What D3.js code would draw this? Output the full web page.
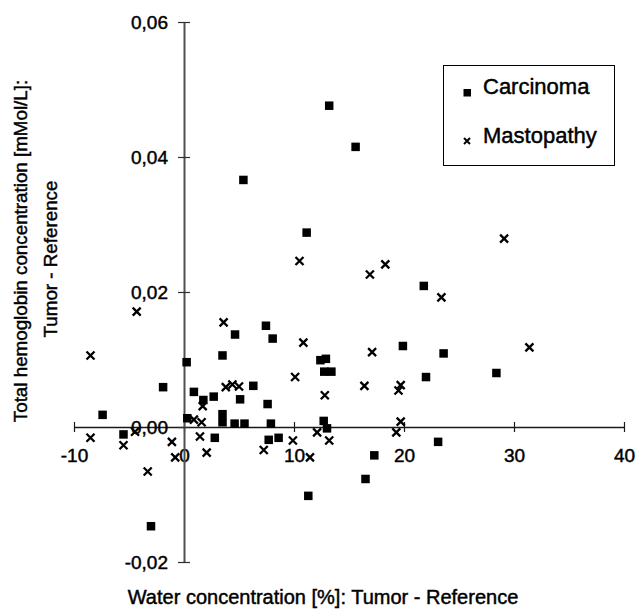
<!DOCTYPE html>
<html>
<head>
<meta charset="utf-8">
<script src="https://cdn.jsdelivr.net/npm/d3@7/dist/d3.min.js"></script>
<style>
  html, body { margin: 0; padding: 0; background: #fff; }
  svg { display: block; font-family: "Liberation Sans", Arial, sans-serif; }
  svg text { fill: #000; stroke: #000; stroke-width: 0.45px; }
</style>
</head>
<body>
<svg id="chart" width="636" height="610"></svg>
<script>
// Water concentration difference (%) and total hemoglobin difference (mMol/L), tumor minus reference
const carcinomaX = [13.2, 15.6, 5.4, 11.15, 21.8, 7.45, 4.64, 8.06, 19.9, 23.6, 3.5, 0.24, 12.4, 12.9, 12.75, 13.4, 22.0, 28.4, -1.9, 6.3, 0.9, 1.76, 2.7, 5.1, 7.6, 3.5, 3.5, 4.6, 5.5, 7.9, 0.3, -7.4, -5.5, 2.8, 7.7, 8.6, 12.7, 13.0, -3.0, 11.3, 16.5, 17.3, 23.1];
const carcinomaY = [0.0476, 0.0415, 0.0366, 0.0288, 0.0209, 0.0150, 0.0137, 0.0131, 0.0120, 0.0109, 0.0106, 0.0096, 0.0099, 0.0101, 0.0082, 0.0082, 0.0074, 0.0080, 0.0059, 0.0061, 0.0052, 0.0040, 0.0045, 0.0041, 0.0034, 0.0019, 0.0007, 0.0005, 0.0005, 0.0005, 0.0013, 0.0018, -0.0011, -0.0016, -0.0019, -0.0016, 0.0009, -0.0002, -0.0147, -0.0102, -0.0077, -0.0042, -0.0022];

const mastopathyX = [29.1, 10.5, 18.3, 16.9, 23.4, -4.3, 3.6, 10.85, 31.4, 17.1, -8.5, 10.1, 16.4, 19.7, 19.5, 3.8, 4.4, 5.0, 12.8, 1.7, 0.9, 1.6, 19.7, 19.3, -8.5, -5.5, -4.45, -1.1, -0.8, -3.3, 1.45, 2.06, 7.25, 9.9, 11.45, 12.1, 13.2];
const mastopathyY = [0.0279, 0.0246, 0.0241, 0.0226, 0.0192, 0.0171, 0.0155, 0.0125, 0.0118, 0.0111, 0.0106, 0.0074, 0.0061, 0.0062, 0.0054, 0.0059, 0.0063, 0.0060, 0.0047, 0.0031, 0.0011, 0.0007, 0.0008, -0.0008, -0.0016, -0.0027, -0.0007, -0.0022, -0.0045, -0.0066, -0.0014, -0.0038, -0.0034, -0.0020, -0.0045, -0.0008, -0.0020];

const xTicks = [-10, 0, 10, 20, 30, 40];
const yTicks = [-0.02, 0, 0.02, 0.04, 0.06];
const seriesNames = ["Carcinoma", "Mastopathy"];
const xTitle = "Water concentration [%]: Tumor - Reference";
const yTitleLines = ["Total hemoglobin concentration [mMol/L]:", "Tumor - Reference"];

const svg = d3.select("#chart");

const x = d3.scaleLinear().domain([-10, 40]).range([74, 624]);
const y = d3.scaleLinear().domain([-0.02, 0.06]).range([562, 22]);

const commaFmt = d3.formatLocale({ decimal: ",", thousands: ".", grouping: [3], currency: ["", ""], minus: "-" }).format(".2f");

// Axes cross at the origin
const xAxis = d3.axisBottom(x).tickValues(xTicks).tickSize(0).tickFormat(d => String(d));
const gx = svg.append("g").attr("transform", `translate(0,${y(0)})`).call(xAxis);
gx.select(".domain").attr("stroke", "#1a1a1a").attr("stroke-width", 1.4);
gx.selectAll(".tick line").attr("y1", -5).attr("y2", 5).attr("stroke", "#1a1a1a").attr("stroke-width", 1.2);
gx.selectAll(".tick text")
  .attr("y", 35).attr("dy", 0)
  .attr("font-size", 19)
  .attr("font-family", "'Liberation Sans', Arial, sans-serif");

const yAxis = d3.axisLeft(y).tickValues(yTicks).tickSize(0).tickFormat(d => commaFmt(d));
const gy = svg.append("g").attr("transform", `translate(${x(0)},0)`).call(yAxis);
gy.select(".domain").attr("stroke", "#505050").attr("stroke-width", 2);
gy.selectAll(".tick line").attr("x1", -6).attr("x2", 6).attr("stroke", "#303030").attr("stroke-width", 1.2);
gy.selectAll(".tick text")
  .attr("x", 168 - x(0)).attr("dy", "0.35em")
  .attr("font-size", 19)
  .attr("font-family", "'Liberation Sans', Arial, sans-serif");

// Carcinoma: filled squares
const sq = 8.5;
svg.append("g").selectAll("rect")
  .data(carcinomaX.map((v, i) => [v, carcinomaY[i]]))
  .join("rect")
  .attr("x", d => x(d[0]) - sq / 2)
  .attr("y", d => y(d[1]) - sq / 2)
  .attr("width", sq).attr("height", sq)
  .attr("fill", "#000");

// Mastopathy: crosses
const cr = 4;
const crossPath = (cx, cy, r) => `M${cx - r},${cy - r}L${cx + r},${cy + r}M${cx - r},${cy + r}L${cx + r},${cy - r}`;
svg.append("g").selectAll("path")
  .data(mastopathyX.map((v, i) => [v, mastopathyY[i]]))
  .join("path")
  .attr("d", d => crossPath(x(d[0]), y(d[1]), cr))
  .attr("stroke", "#000").attr("stroke-width", 2.3).attr("fill", "none");

// Legend
const legend = svg.append("g");
legend.append("rect")
  .attr("x", 443.5).attr("y", 65.5).attr("width", 171).attr("height", 100)
  .attr("fill", "#fff").attr("stroke", "#000").attr("stroke-width", 1);
legend.append("rect").attr("x", 463.5).attr("y", 89).attr("width", 7.5).attr("height", 7.5).attr("fill", "#000");
legend.append("path").attr("d", crossPath(467, 141, 3)).attr("stroke", "#000").attr("stroke-width", 2).attr("fill", "none");
legend.selectAll("text.lg")
  .data(seriesNames)
  .join("text")
  .attr("class", "lg")
  .attr("x", 483)
  .attr("y", (d, i) => 94 + i * 49)
  .attr("font-size", 22)
  .text(d => d);

// Axis titles
svg.append("text")
  .attr("x", 323).attr("y", 604)
  .attr("text-anchor", "middle").attr("font-size", 20)
  .text(xTitle);

const yt = svg.append("text")
  .attr("transform", "translate(0,251) rotate(-90)")
  .attr("text-anchor", "middle").attr("font-size", 18.8);
yt.append("tspan").attr("x", 0).attr("y", 27).text(yTitleLines[0]);
yt.append("tspan").attr("x", -8).attr("y", 57).text(yTitleLines[1]);
</script>
</body>
</html>
